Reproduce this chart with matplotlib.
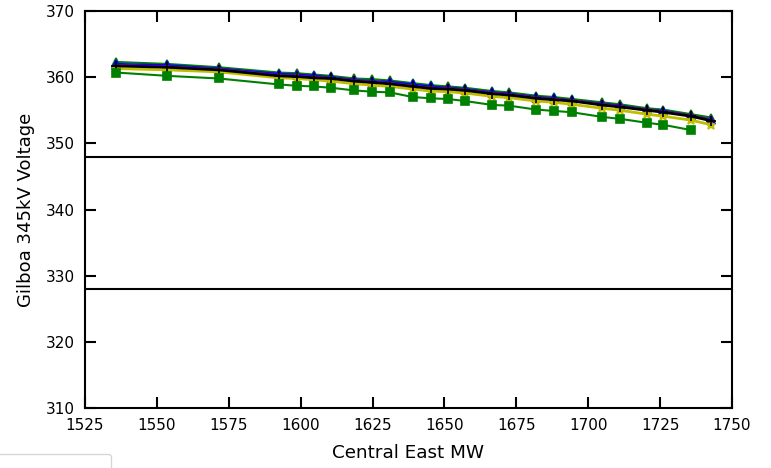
#!/usr/bin/env python3
"""Gilboa 345kV voltage vs Central East MW transfer."""
import numpy as np
import matplotlib
matplotlib.use("Agg")
import matplotlib.pyplot as plt

# Central East transfer (MW) at each study point
ce_mw = [1535.8, 1553.6, 1571.5, 1592.4, 1598.6, 1604.6, 1610.5, 1618.6,
         1624.9, 1631.0, 1638.9, 1645.2, 1651.2, 1657.1, 1666.6, 1672.4,
         1681.9, 1688.0, 1694.3, 1704.7, 1711.0, 1720.5, 1726.1, 1735.8,
         1742.8]

# Gilboa 345 kV voltage per case
v_green_tri = [362.3, 362.0, 361.5, 360.7, 360.6, 360.4, 360.2, 359.8, 359.7,
               359.5, 359.1, 358.8, 358.6, 358.4, 357.9, 357.7, 357.2, 357.0,
               356.7, 356.2, 355.9, 355.3, 355.1, 354.4, 353.9]
v_blue_tri = [362.0, 361.8, 361.3, 360.5, 360.4, 360.2, 360.0, 359.6, 359.4,
              359.3, 358.9, 358.6, 358.4, 358.2, 357.7, 357.5, 357.0, 356.8,
              356.5, 356.0, 355.7, 355.1, 354.9, 354.2, 353.6]
v_red = [361.9, 361.7, 361.2, 360.4, 360.3, 360.1, 359.9, 359.5, 359.3,
         359.2, 358.8, 358.5, 358.3, 358.1, 357.6, 357.4, 356.9, 356.7,
         356.4, 355.9, 355.6, 355.0, 354.8, 354.1, 353.5]
v_magenta = [361.8, 361.6, 361.2, 360.3, 360.2, 360.0, 359.9, 359.5, 359.3,
             359.1, 358.7, 358.4, 358.3, 358.1, 357.6, 357.4, 356.9, 356.7,
             356.5, 355.9, 355.6, 355.1, 354.8, 354.2, 353.5]
v_black = [361.7, 361.5, 361.1, 360.2, 360.1, 359.9, 359.8, 359.4, 359.2,
           359.0, 358.6, 358.3, 358.2, 358.0, 357.5, 357.3, 356.8, 356.6,
           356.4, 355.8, 355.5, 355.0, 354.7, 354.1, 353.4]
v_yellow = [361.3, 361.1, 360.8, 359.9, 359.8, 359.6, 359.4, 359.0, 358.8,
            358.6, 358.2, 357.9, 357.8, 357.6, 357.1, 356.9, 356.4, 356.2,
            355.9, 355.3, 355.0, 354.4, 354.1, 353.5, 352.8]
v_green_sq = [360.7, 360.2, 359.8, 358.9, 358.7, 358.6, 358.4, 358.0, 357.8,
              357.7, 357.0, 356.8, 356.7, 356.4, 355.8, 355.7, 355.1, 354.9,
              354.7, 354.0, 353.7, 353.1, 352.8, 352.0]

limits = [348, 328]

series = [
    ("Case A", v_green_tri, "g", "^", 6, 1.5),
    ("Case B", v_red, "r", "^", 6, 1.5),
    ("Case C", v_blue_tri, "b", "^", 6, 1.5),
    ("Case D", v_magenta, "m", None, 0, 1.5),
    ("Case E", v_yellow, "y", "*", 6.5, 2),
    ("Case F", v_black, "k", "+", 7, 2),
    ("Case G", v_green_sq, "g", "s", 6, 1.5),
]

fig = plt.figure(figsize=(7.71, 4.68), dpi=100)
ax = fig.add_axes([85 / 771, 1 - 408 / 468, 647 / 771, 397 / 468])

for name, vals, col, mk, ms, lw in series:
    x = ce_mw[:len(vals)]
    ax.plot(x, vals, color=col, marker=mk, ms=ms, mew=1.2, lw=lw, label=name)

for lim in limits:
    ax.axhline(lim, color="k", lw=1.5)

ax.set_xlim(1525, 1750)
ax.set_ylim(310, 370)
ax.set_xticks(np.arange(1525, 1751, 25))
ax.set_yticks(np.arange(310, 371, 10))
ax.tick_params(direction="in", length=8, width=1.5, labelsize=11,
               top=True, right=True)
ax.tick_params(axis="x", pad=7)
ax.tick_params(axis="y", pad=7)
for sp in ax.spines.values():
    sp.set_linewidth(1.5)
ax.set_xlabel("Central East MW", fontsize=13.2, labelpad=8)
ax.set_ylabel("Gilboa 345kV Voltage", fontsize=13, labelpad=8)

fig.legend(loc="upper right", bbox_to_anchor=(111 / 771, 1 - 454 / 468),
           borderaxespad=0, borderpad=1.2, fontsize=11)

fig.savefig("out.png", dpi=100)
